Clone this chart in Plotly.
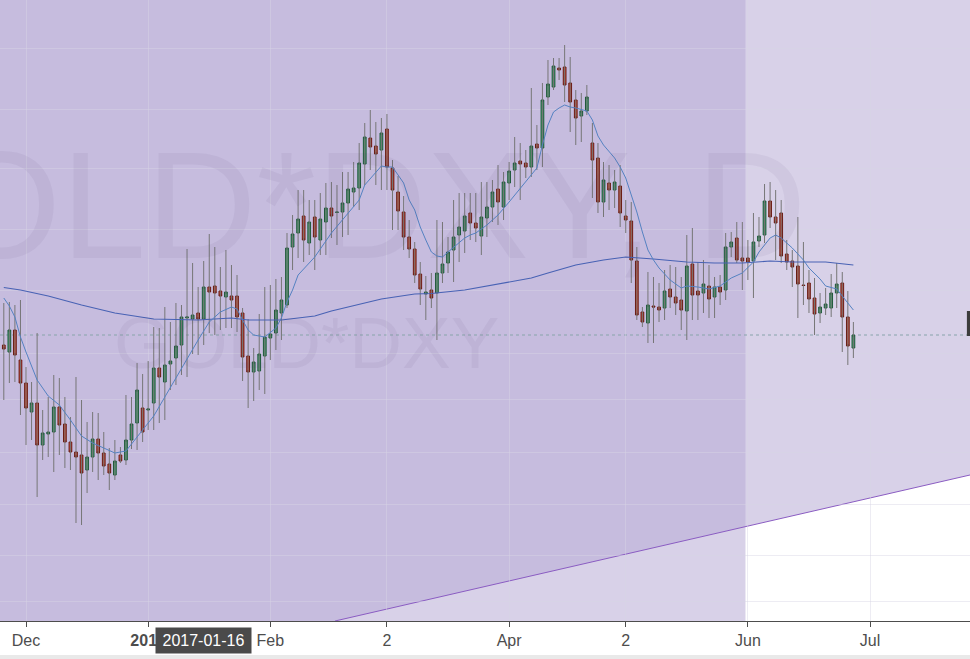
import pandas as pd
import plotly.graph_objects as go

# ---------------- data (daily bars, GOLD*DXY) ----------------
DATES = pd.bdate_range("2016-11-25", "2017-06-28")  # 154 weekday bars

OPEN = [955, 948, 970, 940, 917, 888, 897, 855, 866, 868,
        893, 876, 858, 848, 845, 830, 843, 861, 847, 836,
        825, 845, 840, 860, 877, 892, 890, 897, 932, 918,
        936, 942, 955, 982, 981, 987, 981, 1013, 1014, 1009,
        1003, 1004, 1004, 987, 944, 928, 929, 944, 962, 967,
        987, 995, 1053, 1067, 1084, 1057, 1083, 1060, 1078, 1092,
        1087.5, 1088, 1097, 1108, 1112, 1136, 1162, 1154, 1150, 1171,
        1132, 1108, 1088, 1063, 1051, 1026, 1006, 1010, 1007, 1027,
        1037, 1050, 1065, 1069, 1087, 1077, 1064, 1082, 1093, 1111,
        1093, 1117, 1130, 1139, 1137, 1133, 1156, 1152, 1203, 1213,
        1232, 1233, 1217, 1200, 1184, 1189, 1157, 1142, 1098, 1117,
        1110, 1114, 1084, 1079, 1039, 988, 977, 994, 993, 992,
        1011, 1003, 1000, 989, 1036, 1009, 1007, 1014, 1003, 1013,
        1010, 1053, 1062, 1042, 1042, 1039, 1059, 1065, 1099, 1083,
        1087, 1046, 1039, 1034, 1015, 1017, 1002, 987, 992, 992,
        1007, 1017, 983, 952]

HIGH = [997, 998, 995, 1000, 933, 918, 967, 890, 903, 925,
        922, 903, 883, 923, 900, 878, 888, 887, 868, 852,
        860, 853, 905, 903, 937, 926, 939, 973, 972, 993,
        978, 997, 995, 1051, 1037, 1013, 1039, 1066, 1053, 1033,
        1050, 1035, 1025, 992, 981, 952, 986, 1013, 1015, 1021,
        1023, 1067, 1085, 1110, 1110, 1100, 1100, 1107, 1117, 1118,
        1115, 1128, 1128, 1138, 1157, 1177, 1190, 1178, 1182, 1186,
        1140, 1124, 1104, 1080, 1058, 1038, 1024, 1027, 1080, 1078,
        1063, 1100, 1107, 1107, 1107, 1107, 1118, 1118, 1120, 1135,
        1128, 1138, 1163, 1157, 1150, 1212, 1175, 1217, 1240, 1242,
        1242, 1255, 1243, 1210, 1207, 1215, 1177, 1157, 1138, 1135,
        1130, 1135, 1100, 1098, 1053, 993, 1028, 1023, 1017, 1030,
        1035, 1033, 1023, 1065, 1072, 1038, 1040, 1035, 1023, 1025,
        1067, 1068, 1078, 1078, 1060, 1087, 1083, 1116, 1118, 1110,
        1100, 1060, 1050, 1083, 1058, 1030, 1022, 1007, 1012, 1026,
        1037, 1028, 1009, 978]

LOW = [900, 917, 918, 885, 855, 860, 803, 840, 843, 828,
       845, 832, 830, 777, 775, 807, 828, 820, 825, 810,
       820, 837, 835, 851, 850, 858, 870, 870, 877, 880,
       910, 915, 925, 923, 946, 945, 955, 967, 965, 970,
       972, 972, 968, 919, 892, 899, 910, 906, 940, 950,
       960, 992, 1030, 1042, 1038, 1045, 1030, 1045, 1045, 1062,
       1055, 1063, 1065, 1093, 1090, 1115, 1130, 1115, 1110, 1110,
       1070, 1070, 1050, 1042, 1017, 995, 980, 992, 960, 1017,
       1027, 1018, 1038, 1047, 1060, 1058, 1045, 1063, 1078, 1075,
       1080, 1100, 1113, 1100, 1122, 1123, 1130, 1133, 1195, 1210,
       1220, 1198, 1168, 1155, 1158, 1185, 1102, 1087, 1083, 1090,
       1092, 1073, 1067, 1017, 980, 973, 957, 957, 978, 980,
       992, 985, 970, 960, 980, 980, 987, 982, 982, 995,
       1000, 1043, 1037, 1010, 1020, 1002, 1053, 1057, 1072, 1040,
       1037, 1030, 1013, 982, 995, 987, 965, 977, 985, 983,
       992, 948, 935, 942]

CLOSE = [951, 970, 945, 917, 892, 897, 855, 867, 868, 893,
         875, 858, 848, 843, 827, 843, 861, 847, 834, 827,
         839, 839, 860, 876, 910, 868, 891, 932, 923, 935,
         939, 954, 983, 983, 985, 981, 1013, 1008, 1007, 1004,
         1008, 1000, 983, 943, 928, 938, 946, 963, 966, 990,
         1000, 1052, 1066, 1081, 1060, 1078, 1063, 1081, 1092, 1084,
         1088, 1097, 1111, 1112, 1137, 1163, 1153, 1146, 1167, 1133,
         1110, 1089, 1063, 1051, 1025, 1011, 1008, 1002, 1027, 1036,
         1048, 1063, 1073, 1084, 1077, 1072, 1083, 1093, 1108, 1098,
         1118, 1129, 1137, 1136, 1133, 1154, 1152, 1200, 1216, 1234,
         1230, 1215, 1198, 1182, 1189, 1203, 1140, 1098, 1120, 1110,
         1118, 1087, 1080, 1040, 985, 978, 995, 993, 990, 1009,
         1003, 997, 990, 1034, 1005, 1005, 1016, 1001, 1013, 1008,
         1053, 1058, 1040, 1039, 1038, 1058, 1064, 1099, 1083, 1077,
         1044, 1038, 1033, 1016, 1014.5, 1001, 986, 993, 996, 1007,
         1016, 983, 954, 965]

# moving averages (bar index -> value)
FAST_MA_IDX = [0, 1, 2, 3, 4, 5, 6, 8, 10, 12, 14, 16, 18, 20, 22, 24, 26, 27, 29, 31,
               33, 35, 37, 39, 41, 42, 43, 44, 45, 47, 49, 50, 51, 52, 53, 56, 59, 62, 64, 65,
               67, 68, 69, 70, 72, 73, 74, 75, 76, 77, 78, 79, 80, 81, 82, 83, 84, 85, 87, 89,
               91, 93, 95, 96, 97, 98, 99, 100, 101, 102, 103, 105, 106, 107, 108, 110, 111, 112, 113, 114,
               115, 116, 117, 118, 120, 122, 123, 125, 127, 129, 131, 133, 135, 136, 138, 139, 140, 142, 144, 145,
               147, 148, 150, 151, 152, 153]
FAST_MA = [1002, 994, 983, 963, 948, 934, 920, 904, 895, 880, 864, 857, 852, 847, 849, 863, 878, 884, 903, 922,
           942, 960, 978, 988, 993, 991, 980, 970, 965, 963, 972, 982, 998, 1010, 1025, 1043, 1067, 1087, 1100, 1115,
           1128, 1134, 1133, 1133, 1117, 1100, 1090, 1073, 1060, 1048, 1044, 1043, 1048, 1053, 1057, 1062, 1065, 1067, 1075, 1085,
           1098, 1112, 1125, 1132, 1155, 1175, 1188, 1192, 1195, 1193, 1192, 1189, 1180, 1164, 1155, 1142, 1133, 1122, 1105, 1088,
           1068, 1050, 1040, 1032, 1020, 1012, 1014, 1013, 1011, 1014, 1022, 1027, 1038, 1048, 1062, 1065, 1062, 1052, 1040, 1032,
           1021, 1014, 1011, 1004, 997, 990]

SLOW_MA_IDX = [0, 3, 8, 14, 20, 25, 27, 35, 41, 44, 50, 56, 59, 62, 68, 74, 77, 83, 89, 95,
               98, 100, 103, 108, 112, 117, 123, 128, 133, 138, 142, 148, 151, 153]
SLOW_MA = [1012.5, 1010, 1004, 995, 987, 983, 981, 980, 982, 980, 980, 984, 989, 993, 1001, 1006, 1006.5, 1010, 1016, 1022,
           1027, 1030, 1035, 1040, 1043, 1041, 1038, 1037, 1037, 1039, 1038, 1038, 1036, 1035]

# axis ticks
TICK_DATES = ["2016-12-01", "2017-01-02", "2017-02-01", "2017-03-02",
              "2017-04-03", "2017-05-02", "2017-06-01", "2017-07-03"]
TICK_TEXT = ["Dec", "<b>2017</b>", "Feb", "2", "Apr", "2", "Jun", "Jul"]
GRID_PRICES = [1252, 1191, 1132, 1071, 1010, 947, 901, 848, 796, 745, 699]
CROSSHAIR_DATE = "2017-01-16"
CROSSHAIR_LABEL = "2017-01-16"

# drawings on the chart (anchored in date / price)
X_RANGE = ["2016-11-24 07:35", "2017-07-27 00:00"]
Y_RANGE = [679, 1300]
RECT_END = "2017-05-31 13:40"
TREND_START = ("2017-02-16 15:22", 679)
TREND_END = ("2017-07-27 00:00", 825)
PRICE_LABEL = (964, 989)

# ---------------- figure ----------------
GREEN_FILL, GREEN_LINE = "#3f9a68", "#1f5a3a"
RED_FILL, RED_LINE = "#c5402c", "#6a1d14"
WICK = "#767676"
SHADE = "rgba(184,171,213,0.55)"

body_hi = [max(o, c) for o, c in zip(OPEN, CLOSE)]
body_lo = [min(o, c) for o, c in zip(OPEN, CLOSE)]

wick_x, wick_y = [], []
for d, h, l in zip(DATES, HIGH, LOW):
    wick_x += [d, d, None]
    wick_y += [h, l, None]

fig = go.Figure()

fig.add_trace(go.Scatter(x=wick_x, y=wick_y, mode="lines",
                         line=dict(color=WICK, width=1), hoverinfo="skip"))

fig.add_trace(go.Candlestick(
    x=DATES, open=OPEN, high=body_hi, low=body_lo, close=CLOSE,
    increasing=dict(fillcolor=GREEN_FILL, line=dict(color=GREEN_LINE, width=1)),
    decreasing=dict(fillcolor=RED_FILL, line=dict(color=RED_LINE, width=1)),
    whiskerwidth=0, hoverinfo="skip"))

fig.add_trace(go.Scatter(x=[DATES[i] for i in SLOW_MA_IDX], y=SLOW_MA, mode="lines",
                         line=dict(color="#4862b4", width=1.1), hoverinfo="skip"))
fig.add_trace(go.Scatter(x=[DATES[i] for i in FAST_MA_IDX], y=FAST_MA, mode="lines",
                         line=dict(color="#5582c2", width=1), hoverinfo="skip"))


def pd_(s):
    return s.replace(" ", "_")


region_path = (f"M {pd_(TREND_START[0])},{TREND_START[1]} "
               f"L {pd_(TREND_END[0])},{TREND_END[1]} "
               f"L {pd_(X_RANGE[1])},{Y_RANGE[1]} "
               f"L {pd_(X_RANGE[0])},{Y_RANGE[1]} "
               f"L {pd_(X_RANGE[0])},{Y_RANGE[0]} Z")

shapes = [
    dict(type="rect", xref="x", yref="paper", x0=X_RANGE[0], x1=RECT_END, y0=0, y1=1,
         fillcolor=SHADE, line=dict(width=0), layer="below"),
    dict(type="path", xref="x", yref="y", path=region_path,
         fillcolor=SHADE, line=dict(width=0), layer="below"),
    dict(type="line", xref="x", yref="y", x0=TREND_START[0], y0=TREND_START[1],
         x1=TREND_END[0], y1=TREND_END[1], line=dict(color="#8a5cc2", width=1), layer="below"),
    dict(type="line", xref="paper", yref="y", x0=0, x1=1, y0=CLOSE[-1], y1=CLOSE[-1],
         line=dict(color="#4f9a78", width=1, dash="dot"), layer="below"),
    dict(type="rect", xref="paper", yref="y", x0=0.9968, x1=1.0,
         y0=PRICE_LABEL[0], y1=PRICE_LABEL[1], fillcolor="#3c3c3c", line=dict(width=0), layer="above"),
    dict(type="rect", xref="paper", yref="paper", x0=0, x1=1, y0=-0.075, y1=-0.0548,
         fillcolor="#e9e9e9", line=dict(width=0), layer="above"),
]

annotations = [
    dict(text="GOLD*DXY, D", xref="paper", yref="paper", x=0.325, y=0.67,
         xanchor="center", yanchor="middle", showarrow=False,
         font=dict(family="Liberation Sans", size=153, color="rgba(70,55,110,0.06)")),
    dict(text="GOLD*DXY", xref="paper", yref="paper", x=0.3155, y=0.4477,
         xanchor="center", yanchor="middle", showarrow=False,
         font=dict(family="Liberation Sans", size=73, color="rgba(70,55,110,0.06)")),
    dict(text=CROSSHAIR_LABEL, xref="x", yref="paper", x=CROSSHAIR_DATE, y=-0.0306,
         xanchor="center", yanchor="middle", showarrow=False, bgcolor="#4a4a4a",
         width=95, height=25, borderpad=0,
         font=dict(family="Liberation Sans", size=16, color="#ffffff")),
]

GRID = "rgba(215,212,228,0.45)"

fig.update_layout(
    width=970, height=659,
    margin=dict(l=0, r=0, t=0, b=38, pad=0),
    plot_bgcolor="#ffffff", paper_bgcolor="#ffffff",
    showlegend=False, hovermode=False,
    shapes=shapes, annotations=annotations,
    xaxis=dict(type="date", range=X_RANGE,
               rangebreaks=[dict(bounds=["sat", "mon"])],
               rangeslider=dict(visible=False),
               tickmode="array", tickvals=TICK_DATES, ticktext=TICK_TEXT,
               showgrid=True, gridcolor=GRID, gridwidth=1,
               showline=True, linecolor="#4d4d4d", linewidth=1,
               ticks="outside", ticklen=5, tickcolor="#4d4d4d",
               tickfont=dict(family="Liberation Sans", size=16, color="#4d4d4d"),
               zeroline=False, fixedrange=True),
    yaxis=dict(range=Y_RANGE, tickmode="array", tickvals=GRID_PRICES,
               showticklabels=False, showgrid=True, gridcolor=GRID, gridwidth=1,
               zeroline=False, showline=False, ticks="", fixedrange=True),
)

fig.write_html("out.html", config={"displayModeBar": False},
               post_script="document.body.style.margin='0';document.body.style.overflow='hidden';")
